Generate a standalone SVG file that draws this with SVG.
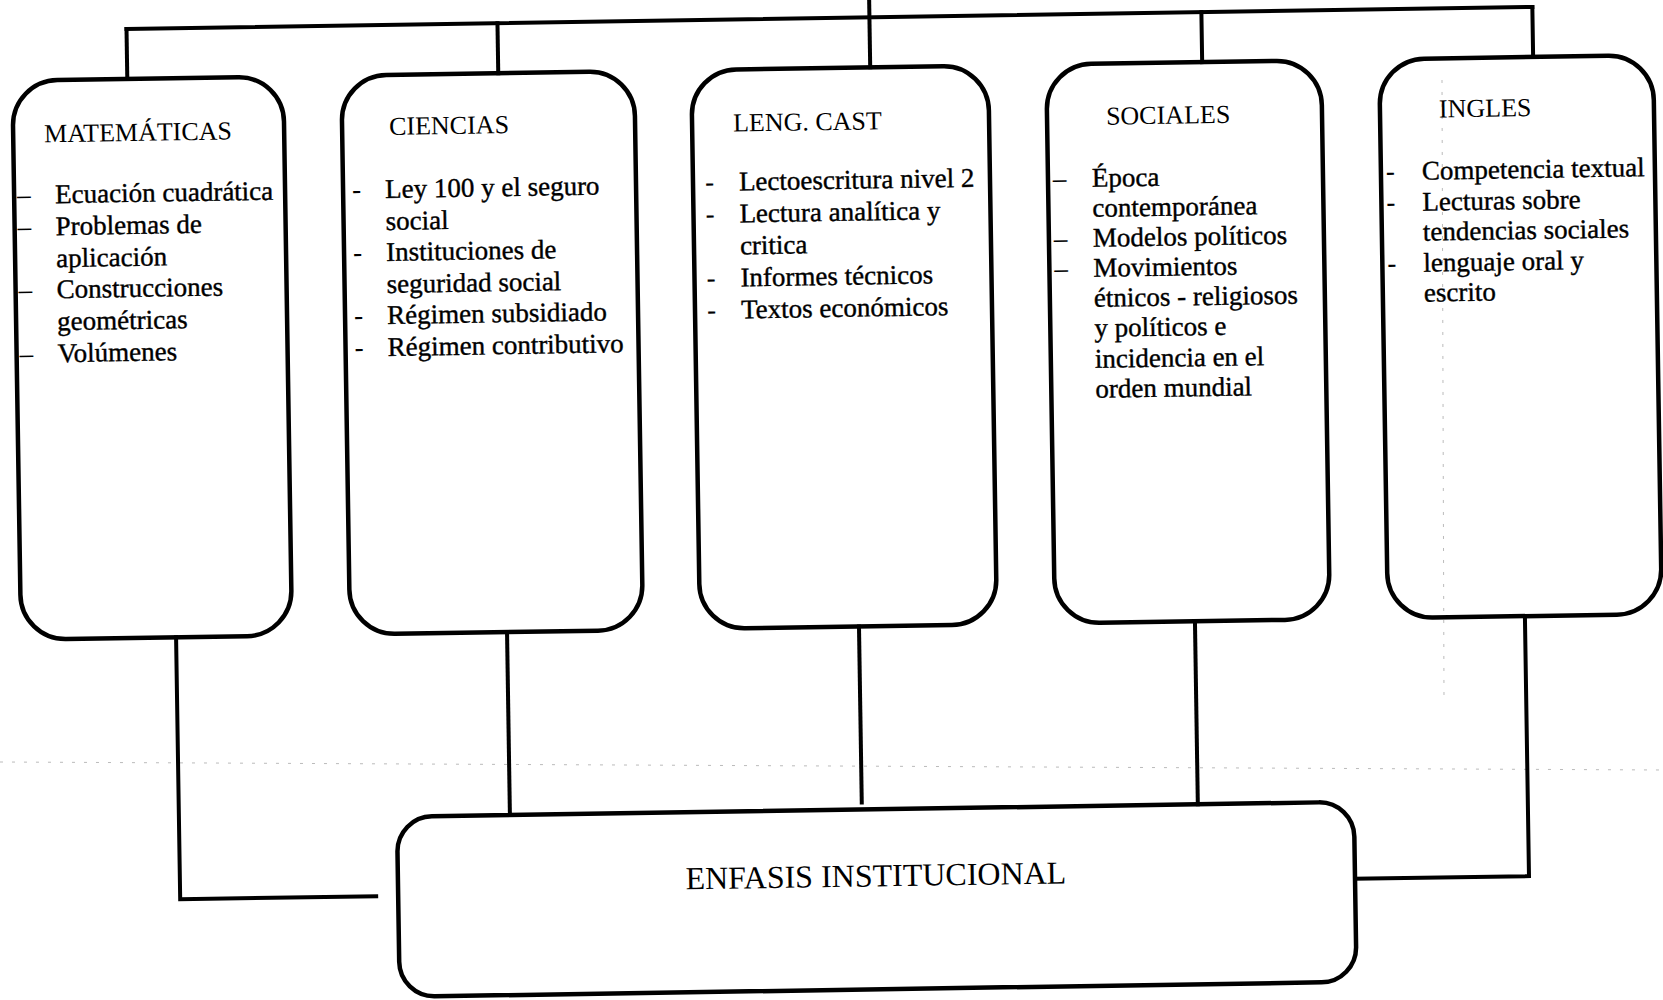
<svg xmlns="http://www.w3.org/2000/svg" width="1663" height="1000" viewBox="0 0 1663 1000">
<style>
.box{fill:none;stroke:#000;stroke-width:4.5;stroke-linejoin:round}
.con{fill:none;stroke:#000;stroke-width:4;stroke-linecap:square}
.t{font-family:"Liberation Serif","Times New Roman",serif;font-size:26px;fill:#000}
.i{font-family:"Liberation Serif","Times New Roman",serif;font-size:27px;fill:#000;stroke:#000;stroke-width:0.4}
.d{font-family:"Liberation Serif","Times New Roman",serif;font-size:27px;fill:#000}
.art{fill:none;stroke:#bbb;stroke-width:1;stroke-dasharray:3 9}
</style>
<rect width="1663" height="1000" fill="#fff"/>
<line class="art" x1="0" y1="762" x2="1663" y2="770"/>
<line class="art" x1="1442" y1="80" x2="1444" y2="700"/>
<g transform="rotate(-0.9 831 500)">
<g id="connectors">
<path class="con" d="M134,18 L1540,18"/>
<path class="con" d="M877,-20 L877,68"/>
<path class="con" d="M134,18 L134,68"/>
<path class="con" d="M505,18 L505,68"/>
<path class="con" d="M1209,18 L1209,68"/>
<path class="con" d="M1540,18 L1540,68"/>
<path class="con" d="M174,627 L174,889 L370,889"/>
<path class="con" d="M505,627 L505,810"/>
<path class="con" d="M857,627 L857,803"/>
<path class="con" d="M1193,627 L1193,810"/>
<path class="con" d="M1523,627 L1523,887 L1349,887"/>
</g>
<g id="matematicas">
<path class="box" d="M19,113 A45,45 0 0 1 64,68 L245,68 A45,45 0 0 1 290,113 L290,582 A45,45 0 0 1 245,627 L64,627 A45,45 0 0 1 19,582 Z"/>
<text class="t" x="50" y="130">MATEMÁTICAS</text>
<text class="d" x="22" y="191">–</text>
<text class="d" x="22" y="223">–</text>
<text class="d" x="22" y="286">–</text>
<text class="d" x="22" y="350">–</text>
<text class="i" x="60" y="191">Ecuación cuadrática</text>
<text class="i" x="60" y="223">Problemas de</text>
<text class="i" x="60" y="255">aplicación</text>
<text class="i" x="60" y="286">Construcciones</text>
<text class="i" x="60" y="318">geométricas</text>
<text class="i" x="60" y="350">Volúmenes</text>
</g>
<g id="ciencias">
<path class="box" d="M348,113 A45,45 0 0 1 393,68 L596,68 A45,45 0 0 1 641,113 L641,582 A45,45 0 0 1 596,627 L393,627 A45,45 0 0 1 348,582 Z"/>
<text class="t" x="395" y="128">CIENCIAS</text>
<text class="d" x="357" y="191">-</text>
<text class="d" x="357" y="254">-</text>
<text class="d" x="357" y="317">-</text>
<text class="d" x="357" y="349">-</text>
<text class="i" x="390" y="191">Ley 100 y el seguro</text>
<text class="i" x="390" y="223">social</text>
<text class="i" x="390" y="254">Instituciones de</text>
<text class="i" x="390" y="286">seguridad social</text>
<text class="i" x="390" y="317">Régimen subsidiado</text>
<text class="i" x="390" y="349">Régimen contributivo</text>
</g>
<g id="lengcast">
<path class="box" d="M698,113 A45,45 0 0 1 743,68 L950,68 A45,45 0 0 1 995,113 L995,582 A45,45 0 0 1 950,627 L743,627 A45,45 0 0 1 698,582 Z"/>
<text class="t" x="739" y="130">LENG. CAST</text>
<text class="d" x="710" y="189">-</text>
<text class="d" x="710" y="221">-</text>
<text class="d" x="710" y="285">-</text>
<text class="d" x="710" y="317">-</text>
<text class="i" x="744" y="189">Lectoescritura nivel 2</text>
<text class="i" x="744" y="221">Lectura analítica y</text>
<text class="i" x="744" y="253">critica</text>
<text class="i" x="744" y="285">Informes técnicos</text>
<text class="i" x="744" y="317">Textos económicos</text>
</g>
<g id="sociales">
<path class="box" d="M1053,113 A45,45 0 0 1 1098,68 L1283,68 A45,45 0 0 1 1328,113 L1328,582 A45,45 0 0 1 1283,627 L1098,627 A45,45 0 0 1 1053,582 Z"/>
<text class="t" x="1112" y="129">SOCIALES</text>
<text class="d" x="1058" y="191">–</text>
<text class="d" x="1058" y="251">–</text>
<text class="d" x="1058" y="281">–</text>
<text class="i" x="1097" y="191">Época</text>
<text class="i" x="1097" y="221">contemporánea</text>
<text class="i" x="1097" y="251">Modelos políticos</text>
<text class="i" x="1097" y="281">Movimientos</text>
<text class="i" x="1097" y="311">étnicos - religiosos</text>
<text class="i" x="1097" y="341">y políticos  e</text>
<text class="i" x="1097" y="372">incidencia en el</text>
<text class="i" x="1097" y="402">orden mundial</text>
</g>
<g id="ingles">
<path class="box" d="M1386,113 A45,45 0 0 1 1431,68 L1615,68 A45,45 0 0 1 1660,113 L1660,582 A45,45 0 0 1 1615,627 L1431,627 A45,45 0 0 1 1386,582 Z"/>
<text class="t" x="1445" y="127">INGLES</text>
<text class="d" x="1391" y="189">-</text>
<text class="d" x="1391" y="220">-</text>
<text class="d" x="1391" y="281">-</text>
<text class="i" x="1427" y="189">Competencia textual</text>
<text class="i" x="1427" y="220">Lecturas sobre</text>
<text class="i" x="1427" y="250">tendencias sociales</text>
<text class="i" x="1427" y="281">lenguaje oral y</text>
<text class="i" x="1427" y="311">escrito</text>
</g>
<g id="enfasis">
<rect class="box" x="392" y="810" width="957" height="180" rx="35" ry="35"/>
<text class="t" x="870" y="887" text-anchor="middle" style="font-size:32px">ENFASIS INSTITUCIONAL</text>
</g>
</g>
</svg>
